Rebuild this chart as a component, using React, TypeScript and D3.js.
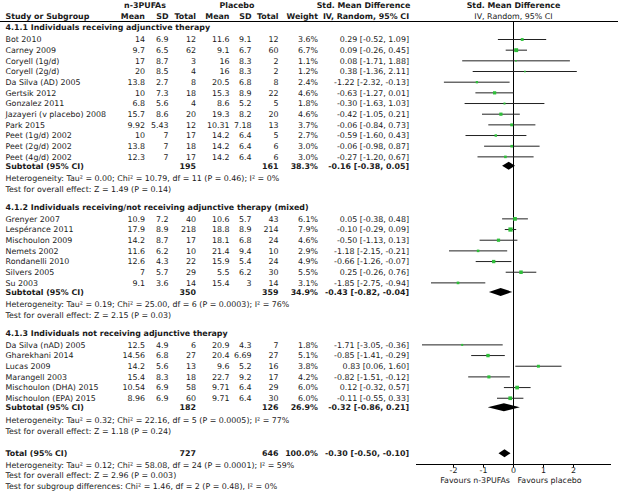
import React from "react";
import * as d3 from "d3";

// ---------- data ----------
const groupTitles = [
  "4.1.1 Individuals receiving adjunctive therapy",
  "4.1.2 Individuals receiving/not receiving adjunctive therapy (mixed)",
  "4.1.3 Individuals not receiving adjunctive therapy",
];
const studyGroup = [0,0,0,0,0,0,0,0,0,0,0,0, 1,1,1,1,1,1,1, 2,2,2,2,2,2];
const studyNames = [
  "Bot 2010","Carney 2009","Coryell (1g/d)","Coryell (2g/d)","Da Silva (AD) 2005","Gertsik 2012",
  "Gonzalez 2011","Jazayeri (v placebo) 2008","Park 2015","Peet (1g/d) 2002","Peet (2g/d) 2002","Peet (4g/d) 2002",
  "Grenyer 2007","Lespérance 2011","Mischoulon 2009","Nemets 2002","Rondanelli 2010","Silvers 2005","Su 2003",
  "Da Silva (nAD) 2005","Gharekhani 2014","Lucas 2009","Marangell 2003","Mischoulon (DHA) 2015","Mischoulon (EPA) 2015",
];
const n3Mean = [14,9.7,17,20,13.8,10,6.8,15.7,9.92,10,13.8,12.3, 10.9,17.9,14.2,11.6,12.6,7,9.1, 12.5,14.56,14.2,15.4,10.54,8.96];
const n3SD = [6.9,6.5,8.7,8.5,2.7,7.3,5.6,8.6,5.43,7,7,7, 7.2,8.9,8.7,6.2,4.3,5.7,3.6, 4.9,6.8,5.6,8.3,6.9,6.9];
const n3Total = [12,62,3,4,8,18,4,20,12,17,18,17, 40,218,17,10,22,29,14, 6,27,13,18,58,60];
const plMean = [11.6,9.1,16,16,20.5,15.3,8.6,19.3,10.31,14.2,14.2,14.2, 10.6,18.8,18.1,21.4,15.9,5.5,15.4, 20.9,20.4,9.6,22.7,9.71,9.71];
const plSD = [9.1,6.7,8.3,8.3,6.8,8.9,5.2,8.2,7.18,6.4,6.4,6.4, 5.7,8.9,6.8,9.4,5.4,6.2,3, 4.3,6.69,5.2,9.2,6.4,6.4];
const plTotal = [12,60,2,2,8,22,5,20,13,5,6,6, 43,214,24,10,24,30,14, 7,27,16,17,29,30];
const weights = [3.6,6.7,1.1,1.2,2.4,4.6,1.8,4.6,3.7,2.7,3.0,3.0, 6.1,7.9,4.6,2.9,4.9,5.5,3.1, 1.8,5.1,3.8,4.2,6.0,6.0];
const smd = [0.29,0.09,0.08,0.38,-1.22,-0.63,-0.30,-0.42,-0.06,-0.59,-0.06,-0.27, 0.05,-0.10,-0.50,-1.18,-0.66,0.25,-1.85, -1.71,-0.85,0.83,-0.82,0.12,-0.11];
const ciLo = [-0.52,-0.26,-1.71,-1.36,-2.32,-1.27,-1.63,-1.05,-0.84,-1.60,-0.98,-1.20, -0.38,-0.29,-1.13,-2.15,-1.26,-0.26,-2.75, -3.05,-1.41,0.06,-1.51,-0.32,-0.55];
const ciHi = [1.09,0.45,1.88,2.11,-0.13,0.01,1.03,0.21,0.73,0.43,0.87,0.67, 0.48,0.09,0.13,-0.21,-0.07,0.76,-0.94, -0.36,-0.29,1.60,-0.12,0.57,0.33];

const subN3Total = [195, 350, 182];
const subPlTotal = [161, 359, 126];
const subWeight = [38.3, 34.9, 26.9];
const subSmd = [-0.16, -0.43, -0.32];
const subLo = [-0.38, -0.82, -0.86];
const subHi = [0.05, -0.04, 0.21];
const subHet = [
  "Heterogeneity: Tau² = 0.00; Chi² = 10.79, df = 11 (P = 0.46); I² = 0%",
  "Heterogeneity: Tau² = 0.19; Chi² = 25.00, df = 6 (P = 0.0003); I² = 76%",
  "Heterogeneity: Tau² = 0.32; Chi² = 22.16, df = 5 (P = 0.0005); I² = 77%",
];
const subTest = [
  "Test for overall effect: Z = 1.49 (P = 0.14)",
  "Test for overall effect: Z = 2.15 (P = 0.03)",
  "Test for overall effect: Z = 1.18 (P = 0.24)",
];
const totalN3 = 727;
const totalPl = 646;
const totalWeight = 100.0;
const totalSmd = -0.30;
const totalLo = -0.50;
const totalHi = -0.10;
const totalNotes = [
  "Heterogeneity: Tau² = 0.12; Chi² = 58.08, df = 24 (P = 0.0001); I² = 59%",
  "Test for overall effect: Z = 2.96 (P = 0.003)",
  "Test for subgroup differences: Chi² = 1.46, df = 2 (P = 0.48), I² = 0%",
];
const axisTicks = [-2, -1, 0, 1, 2];
const axisDomain = [-3.25, 3.25];
const favourLeft = "Favours n-3PUFAs";
const favourRight = "Favours placebo";

// ---------- layout ----------
const W = 618, H = 491;
const FONT = "'DejaVu Sans', Verdana, sans-serif";
const FS = 7.9;
const TXT = "#1a1a1a";
const ROW = 10.67;

const x = d3.scaleLinear().domain(axisDomain).range([416, 611]);

const col = {
  name: 5.5, n3Mean: 145, n3SD: 168.5, n3Total: 196,
  plMean: 229.5, plSD: 251.5, plTotal: 278.5, weight: 318, ci: 409,
};

const fmtCI = (m: number, l: number, h: number) =>
  `${m.toFixed(2)} [${l.toFixed(2)}, ${h.toFixed(2)}]`;

type Line = { kind: string; y: number; idx: number };

function buildLayout() {
  const lines: Line[] = [];
  let y = 27.5;
  groupTitles.forEach((_, g) => {
    lines.push({ kind: "title", y, idx: g });
    const rows = studyGroup.map((gg, i) => (gg === g ? i : -1)).filter((i) => i >= 0);
    let ry = y + 12;
    rows.forEach((i, k) => {
      ry = y + 12 + k * ROW;
      lines.push({ kind: "study", y: ry, idx: i });
    });
    const sy = ry + 9;
    lines.push({ kind: "sub", y: sy, idx: g });
    lines.push({ kind: "het", y: sy + 12.5, idx: g });
    lines.push({ kind: "test", y: sy + 23.5, idx: g });
    y = sy + 23.5 + 17.5;
  });
  const ty = lines[lines.length - 1].y + 22.5;
  lines.push({ kind: "total", y: ty, idx: 0 });
  totalNotes.forEach((_, k) => lines.push({ kind: "note", y: ty + 11.5 + k * 10.8, idx: k }));
  return lines;
}

const T = (props: any) => (
  <text
    fontFamily={FONT}
    fontSize={FS}
    fill={TXT}
    dy="0.35em"
    {...props}
  />
);

export default function App() {
  const lines = buildLayout();
  const axisY = 464.5;
  const zeroX = x(0);

  const diamond = (m: number, l: number, h: number, cy: number) => {
    const hh = 4;
    return `M${x(l)},${cy} L${x(m)},${cy - hh} L${x(h)},${cy} L${x(m)},${cy + hh} Z`;
  };

  return (
    <svg
      width={W}
      height={H}
      style={{ position: "absolute", left: 0, top: 0, background: "#fff" }}
    >
      {/* headers */}
      <T x={145} y={5} textAnchor="middle" fontWeight="bold">n-3PUFAs</T>
      <T x={237} y={5} textAnchor="middle" fontWeight="bold">Placebo</T>
      <T x={363.5} y={5} textAnchor="middle" fontWeight="bold">Std. Mean Difference</T>
      <T x={zeroX} y={5} textAnchor="middle" fontWeight="bold">Std. Mean Difference</T>
      <T x={col.name} y={16} fontWeight="bold">Study or Subgroup</T>
      <T x={col.n3Mean} y={16} textAnchor="end" fontWeight="bold">Mean</T>
      <T x={col.n3SD} y={16} textAnchor="end" fontWeight="bold">SD</T>
      <T x={col.n3Total} y={16} textAnchor="end" fontWeight="bold">Total</T>
      <T x={col.plMean} y={16} textAnchor="end" fontWeight="bold">Mean</T>
      <T x={col.plSD} y={16} textAnchor="end" fontWeight="bold">SD</T>
      <T x={col.plTotal} y={16} textAnchor="end" fontWeight="bold">Total</T>
      <T x={col.weight} y={16} textAnchor="end" fontWeight="bold">Weight</T>
      <T x={366} y={16} textAnchor="middle" fontWeight="bold">IV, Random, 95% CI</T>
      <T x={zeroX} y={16} textAnchor="middle">IV, Random, 95% CI</T>
      <line x1={0} x2={W} y1={21.5} y2={21.5} stroke="#000" strokeWidth={1} />

      {/* zero line */}
      <line x1={zeroX} x2={zeroX} y1={21.5} y2={axisY} stroke="#000" strokeWidth={1} />

      {lines.map((ln, k) => {
        if (ln.kind === "title")
          return <T key={k} x={col.name} y={ln.y} fontWeight="bold">{groupTitles[ln.idx]}</T>;
        if (ln.kind === "study") {
          const i = ln.idx;
          const s = 1.5 * Math.sqrt(weights[i]);
          return (
            <g key={k}>
              <T x={col.name} y={ln.y}>{studyNames[i]}</T>
              <T x={col.n3Mean} y={ln.y} textAnchor="end">{String(n3Mean[i])}</T>
              <T x={col.n3SD} y={ln.y} textAnchor="end">{String(n3SD[i])}</T>
              <T x={col.n3Total} y={ln.y} textAnchor="end">{String(n3Total[i])}</T>
              <T x={col.plMean} y={ln.y} textAnchor="end">{String(plMean[i])}</T>
              <T x={col.plSD} y={ln.y} textAnchor="end">{String(plSD[i])}</T>
              <T x={col.plTotal} y={ln.y} textAnchor="end">{String(plTotal[i])}</T>
              <T x={col.weight} y={ln.y} textAnchor="end">{weights[i].toFixed(1) + "%"}</T>
              <T x={col.ci} y={ln.y} textAnchor="end">{fmtCI(smd[i], ciLo[i], ciHi[i])}</T>
              <line x1={x(ciLo[i])} x2={x(ciHi[i])} y1={ln.y} y2={ln.y} stroke="#222" strokeWidth={1} />
              <rect x={x(smd[i]) - s / 2} y={ln.y - s / 2} width={s} height={s} fill="#2fbf3a" />
            </g>
          );
        }
        if (ln.kind === "sub") {
          const g = ln.idx;
          return (
            <g key={k}>
              <T x={col.name} y={ln.y} fontWeight="bold">Subtotal (95% CI)</T>
              <T x={col.n3Total} y={ln.y} textAnchor="end" fontWeight="bold">{String(subN3Total[g])}</T>
              <T x={col.plTotal} y={ln.y} textAnchor="end" fontWeight="bold">{String(subPlTotal[g])}</T>
              <T x={col.weight} y={ln.y} textAnchor="end" fontWeight="bold">{subWeight[g].toFixed(1) + "%"}</T>
              <T x={col.ci} y={ln.y} textAnchor="end" fontWeight="bold">{fmtCI(subSmd[g], subLo[g], subHi[g])}</T>
              <path d={diamond(subSmd[g], subLo[g], subHi[g], ln.y)} fill="#000" />
            </g>
          );
        }
        if (ln.kind === "het") return <T key={k} x={col.name} y={ln.y}>{subHet[ln.idx]}</T>;
        if (ln.kind === "test") return <T key={k} x={col.name} y={ln.y}>{subTest[ln.idx]}</T>;
        if (ln.kind === "total")
          return (
            <g key={k}>
              <T x={col.name} y={ln.y} fontWeight="bold">Total (95% CI)</T>
              <T x={col.n3Total} y={ln.y} textAnchor="end" fontWeight="bold">{String(totalN3)}</T>
              <T x={col.plTotal} y={ln.y} textAnchor="end" fontWeight="bold">{String(totalPl)}</T>
              <T x={col.weight} y={ln.y} textAnchor="end" fontWeight="bold">{totalWeight.toFixed(1) + "%"}</T>
              <T x={col.ci} y={ln.y} textAnchor="end" fontWeight="bold">{fmtCI(totalSmd, totalLo, totalHi)}</T>
              <path d={diamond(totalSmd, totalLo, totalHi, ln.y)} fill="#000" />
            </g>
          );
        if (ln.kind === "note") return <T key={k} x={col.name} y={ln.y}>{totalNotes[ln.idx]}</T>;
        return null;
      })}

      {/* axis */}
      <line x1={x(axisDomain[0])} x2={x(axisDomain[1])} y1={axisY} y2={axisY} stroke="#000" strokeWidth={1} />
      {axisTicks.map((t) => (
        <g key={t}>
          <line x1={x(t)} x2={x(t)} y1={axisY} y2={axisY + 3} stroke="#000" strokeWidth={1} />
          <T x={x(t)} y={axisY + 6} textAnchor="middle">{String(t)}</T>
        </g>
      ))}
      <T x={zeroX - 3.5} y={480.5} textAnchor="end">{favourLeft}</T>
      <T x={zeroX + 4} y={480.5}>{favourRight}</T>
    </svg>
  );
}
